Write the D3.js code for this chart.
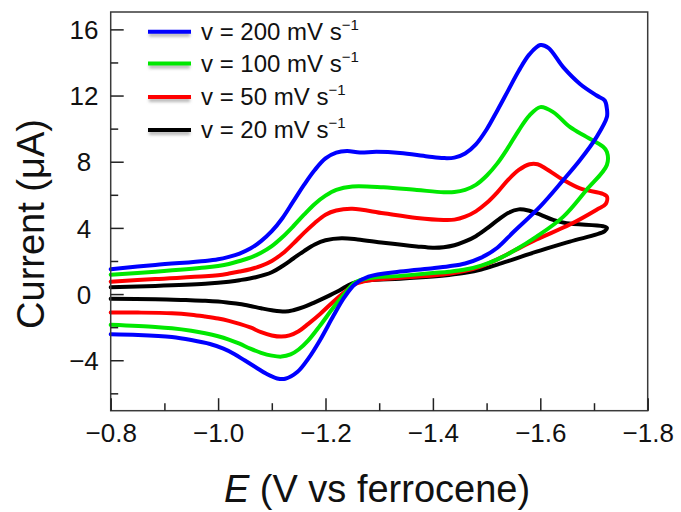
<!DOCTYPE html>
<html><head><meta charset="utf-8">
<script src="https://cdn.jsdelivr.net/npm/d3@7"></script>
<style>body{margin:0;background:#fff}svg{display:block}</style>
</head><body><svg id="c" width="681" height="512"></svg>
<script>
// ---- data (E in V vs ferrocene, current in µA) ----
const scanRates = ["200", "100", "50", "20"];
const seriesColors = ["#0000ff", "#00e800", "#ff0000", "#000000"];
const cv200 = [[-0.800,1.50],[-0.883,1.76],[-0.976,2.0],[-1.000,2.1],[-1.020,2.25],[-1.040,2.45],[-1.060,2.75],[-1.080,3.2],[-1.100,3.8],[-1.120,4.6],[-1.140,5.6],[-1.160,6.6],[-1.180,7.5],[-1.200,8.2],[-1.220,8.55],[-1.240,8.65],[-1.264,8.56],[-1.295,8.6],[-1.339,8.53],[-1.390,8.32],[-1.420,8.22],[-1.440,8.25],[-1.460,8.5],[-1.480,9.05],[-1.500,9.95],[-1.520,11.1],[-1.540,12.3],[-1.560,13.5],[-1.580,14.5],[-1.600,15.05],[-1.615,14.88],[-1.643,13.7],[-1.674,12.7],[-1.705,12.0],[-1.720,11.7],[-1.724,11.2],
  [-1.724,10.7],[-1.705,9.5],[-1.674,8.1],[-1.643,6.9],[-1.600,5.3],[-1.550,3.75],[-1.520,2.8],[-1.490,2.2],[-1.460,1.85],[-1.430,1.68],[-1.400,1.56],[-1.339,1.36],[-1.280,1.05],[-1.255,0.6],[-1.235,-0.2],[-1.215,-1.3],[-1.190,-2.77],[-1.168,-3.9],[-1.148,-4.7],[-1.125,-5.12],[-1.110,-5.1],[-1.090,-4.82],[-1.070,-4.42],[-1.050,-4.02],[-1.030,-3.62],[-1.010,-3.3],[-0.985,-3.02],[-0.950,-2.78],[-0.914,-2.6],[-0.851,-2.47],[-0.800,-2.43]];
const cv100 = [[-0.800,1.17],[-0.883,1.35],[-0.976,1.6],[-1.000,1.7],[-1.020,1.82],[-1.040,2.0],[-1.060,2.2],[-1.080,2.5],[-1.100,2.9],[-1.120,3.45],[-1.140,4.1],[-1.160,4.8],[-1.180,5.45],[-1.200,5.95],[-1.220,6.3],[-1.250,6.5],[-1.308,6.45],[-1.370,6.29],[-1.420,6.16],[-1.440,6.17],[-1.460,6.3],[-1.480,6.6],[-1.500,7.15],[-1.520,7.9],[-1.540,8.85],[-1.560,9.9],[-1.580,10.8],[-1.600,11.3],[-1.624,11.0],[-1.655,10.1],[-1.686,9.5],[-1.717,8.9],[-1.724,8.6],
  [-1.724,7.8],[-1.686,6.29],[-1.643,4.68],[-1.593,3.47],[-1.550,2.6],[-1.520,2.1],[-1.490,1.72],[-1.460,1.48],[-1.430,1.35],[-1.400,1.27],[-1.339,1.1],[-1.280,0.96],[-1.255,0.7],[-1.235,0.0],[-1.215,-0.8],[-1.190,-1.9],[-1.168,-2.8],[-1.150,-3.35],[-1.135,-3.65],[-1.118,-3.78],[-1.100,-3.72],[-1.080,-3.55],[-1.060,-3.3],[-1.040,-3.0],[-1.020,-2.75],[-1.000,-2.55],[-0.976,-2.37],[-0.950,-2.22],[-0.914,-2.07],[-0.883,-1.99],[-0.800,-1.86]];
const cv50 = [[-0.800,0.75],[-0.883,0.91],[-0.976,1.07],[-1.000,1.14],[-1.020,1.24],[-1.040,1.36],[-1.060,1.5],[-1.080,1.7],[-1.100,2.0],[-1.120,2.45],[-1.140,3.05],[-1.160,3.7],[-1.180,4.3],[-1.200,4.8],[-1.220,5.05],[-1.250,5.15],[-1.308,4.88],[-1.370,4.6],[-1.420,4.48],[-1.440,4.5],[-1.460,4.68],[-1.480,5.0],[-1.500,5.5],[-1.520,6.15],[-1.540,6.9],[-1.560,7.5],[-1.580,7.85],[-1.595,7.85],[-1.612,7.55],[-1.643,6.9],[-1.674,6.39],[-1.717,6.05],[-1.724,5.9],
  [-1.722,5.45],[-1.705,5.1],[-1.655,4.2],[-1.593,3.3],[-1.550,2.6],[-1.520,2.1],[-1.490,1.68],[-1.460,1.4],[-1.430,1.22],[-1.400,1.12],[-1.339,0.98],[-1.280,0.82],[-1.255,0.6],[-1.235,0.1],[-1.215,-0.45],[-1.190,-1.2],[-1.168,-1.8],[-1.150,-2.25],[-1.133,-2.5],[-1.118,-2.57],[-1.100,-2.5],[-1.080,-2.3],[-1.060,-2.02],[-1.040,-1.8],[-1.020,-1.62],[-1.000,-1.48],[-0.976,-1.36],[-0.950,-1.25],[-0.914,-1.16],[-0.851,-1.12],[-0.800,-1.12]];
const cv20 = [[-0.800,0.41],[-0.883,0.49],[-0.976,0.62],[-1.000,0.68],[-1.020,0.75],[-1.040,0.84],[-1.070,1.02],[-1.100,1.32],[-1.120,1.7],[-1.140,2.15],[-1.160,2.6],[-1.180,3.0],[-1.200,3.25],[-1.230,3.37],[-1.260,3.3],[-1.308,3.1],[-1.370,2.88],[-1.400,2.8],[-1.420,2.83],[-1.440,2.95],[-1.460,3.18],[-1.480,3.5],[-1.500,3.95],[-1.520,4.45],[-1.540,4.9],[-1.560,5.12],[-1.578,5.05],[-1.600,4.8],[-1.624,4.48],[-1.649,4.28],[-1.717,4.1],[-1.724,4.0],
  [-1.720,3.8],[-1.655,3.17],[-1.593,2.56],[-1.550,2.1],[-1.520,1.78],[-1.490,1.48],[-1.460,1.28],[-1.430,1.15],[-1.400,1.06],[-1.339,0.93],[-1.280,0.84],[-1.250,0.65],[-1.225,0.2],[-1.200,-0.2],[-1.180,-0.5],[-1.160,-0.78],[-1.140,-0.98],[-1.125,-1.06],[-1.100,-0.98],[-1.080,-0.86],[-1.060,-0.72],[-1.040,-0.6],[-1.020,-0.52],[-1.000,-0.45],[-0.976,-0.4],[-0.940,-0.36],[-0.883,-0.31],[-0.800,-0.29]];
const xMajorTicks = [-0.8, -1.0, -1.2, -1.4, -1.6, -1.8];
const xMinorTicks = [-0.9, -1.1, -1.3, -1.5, -1.7];
const yMajorTicks = [-4, 0, 4, 8, 12, 16];
const yMinorTicks = [-6, -2, 2, 6, 10, 14];

const series = [cv200, cv100, cv50, cv20];

// ---- layout ----
const FONT = "'Liberation Sans', Arial, Helvetica, sans-serif";
const svg = d3.select("#c");
const L = 110.7, R = 647.7, T = 12, B = 410.7;
const x = d3.scaleLinear().domain([-0.8, -1.8]).range([L, R]);
const y = d3.scaleLinear().domain([-7.05, 17.05]).range([B, T]);

const defs = svg.append("defs");
defs.append("filter").attr("id", "blur").attr("filterUnits", "userSpaceOnUse")
  .attr("x", 0).attr("y", 0).attr("width", 681).attr("height", 512)
  .append("feGaussianBlur").attr("stdDeviation", 1.6);

// curves (black first, blue on top)
const line = d3.line().x(d => x(d[0])).y(d => y(d[1])).curve(d3.curveCatmullRom.alpha(0.5));
const gCurves = svg.append("g");
for (let i = series.length - 1; i >= 0; i--) {
  gCurves.append("path").attr("d", line(series[i]))
    .attr("fill", "none").attr("stroke", seriesColors[i])
    .attr("stroke-width", 4).attr("stroke-linejoin", "round").attr("stroke-linecap", "round");
}

// frame
svg.append("rect").attr("x", L).attr("y", T).attr("width", R - L).attr("height", B - T)
  .attr("fill", "none").attr("stroke", "#3a3a3a").attr("stroke-width", 1.5);

// x axis
const fmtX = d3.format(".1f");
const gx = svg.append("g").attr("transform", `translate(0,${B})`)
  .call(d3.axisBottom(x).tickValues(xMajorTicks).tickSize(-12.5).tickPadding(0).tickFormat(fmtX));
gx.select(".domain").remove();
gx.selectAll(".tick line").attr("stroke", "#222").attr("stroke-width", 1.5);
gx.selectAll(".tick text").attr("y", 31).attr("dy", 0).attr("font-size", 26).attr("font-family", FONT).attr("fill", "#111");
const gxm = svg.append("g").attr("transform", `translate(0,${B})`)
  .call(d3.axisBottom(x).tickValues(xMinorTicks).tickSize(-7.5).tickFormat(""));
gxm.select(".domain").remove();
gxm.selectAll(".tick line").attr("stroke", "#222").attr("stroke-width", 1.5);

// y axis
const gy = svg.append("g").attr("transform", `translate(${L},0)`)
  .call(d3.axisLeft(y).tickValues(yMajorTicks).tickSize(-13).tickFormat(d3.format("d")));
gy.select(".domain").remove();
gy.selectAll(".tick line").attr("stroke", "#222").attr("stroke-width", 1.5);
gy.selectAll(".tick text").attr("x", 84 - L).attr("dy", "0.35em").attr("text-anchor", "middle")
  .attr("font-size", 26).attr("font-family", FONT).attr("fill", "#111");
const gym = svg.append("g").attr("transform", `translate(${L},0)`)
  .call(d3.axisLeft(y).tickValues(yMinorTicks).tickSize(-7.5).tickFormat(""));
gym.select(".domain").remove();
gym.selectAll(".tick line").attr("stroke", "#222").attr("stroke-width", 1.5);

// axis titles
const xt = svg.append("text").attr("x", 377).attr("y", 502).attr("text-anchor", "middle")
  .attr("font-size", 38).attr("font-family", FONT).attr("fill", "#111");
xt.append("tspan").attr("font-style", "italic").text("E");
xt.append("tspan").text(" (V vs ferrocene)");
svg.append("text").attr("transform", "translate(44,224) rotate(-90)").attr("text-anchor", "middle")
  .attr("font-size", 38).attr("font-family", FONT).attr("fill", "#111").text("Current (μA)");

// legend
const legY = [31.7, 63.5, 97, 130];
scanRates.forEach((r, i) => {
  svg.append("line").attr("x1", 149).attr("x2", 190).attr("y1", legY[i] + 3).attr("y2", legY[i] + 3)
    .attr("stroke", "#888").attr("stroke-opacity", 0.6).attr("stroke-width", 4).attr("filter", "url(#blur)");
  svg.append("line").attr("x1", 148).attr("x2", 191).attr("y1", legY[i]).attr("y2", legY[i])
    .attr("stroke", seriesColors[i]).attr("stroke-width", 4);
  const t = svg.append("text").attr("x", 201).attr("y", legY[i] + 8)
    .attr("font-size", 24).attr("font-family", FONT).attr("fill", "#111");
  t.append("tspan").text(`v = ${r} mV s`);
  t.append("tspan").attr("font-size", 15).attr("dy", -10).text("−1");
});
</script></body></html>
